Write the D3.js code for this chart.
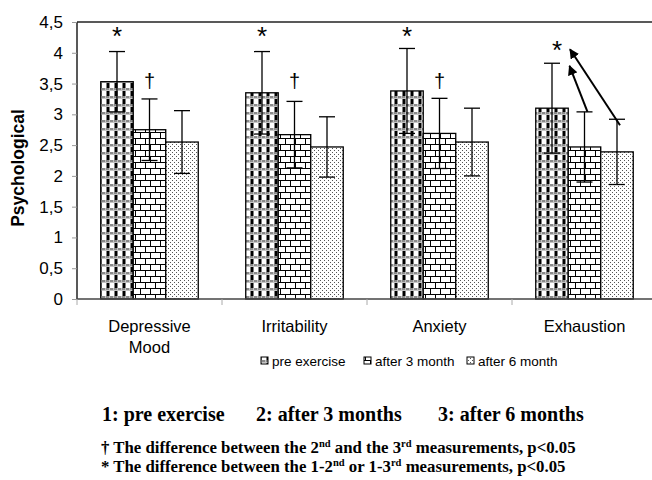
<!DOCTYPE html>
<html><head><meta charset="utf-8">
<script src="https://cdn.jsdelivr.net/npm/d3@7"></script>
<style>body{margin:0;background:#fff}svg{display:block}</style>
</head><body>
<svg id="c" width="652" height="480"></svg>
<script>
const categories = ["Depressive Mood", "Irritability", "Anxiety", "Exhaustion"];
const seriesNames = ["pre exercise", "after 3 month", "after 6 month"];
const preExercise = [3.53, 3.35, 3.38, 3.10];
const after3Month = [2.75, 2.67, 2.69, 2.47];
const after6Month = [2.55, 2.47, 2.55, 2.39];
const preErr = [0.49, 0.67, 0.69, 0.73];
const after3Err = [0.50, 0.54, 0.57, 0.57];
const after6Err = [0.51, 0.49, 0.55, 0.53];
const yTicks = [0, 0.5, 1, 1.5, 2, 2.5, 3, 3.5, 4, 4.5];
const starMarks = [true, true, true, true];      // on pre exercise bars
const daggerMarks = [true, true, true, false];   // on after 3 month bars
const footLine = ["1: pre exercise", "2: after 3 months", "3: after 6 months"];

const svg = d3.select("#c");
const defs = svg.append("defs");

// patterns
const pCheck = defs.append("pattern").attr("id","pCheck").attr("patternUnits","userSpaceOnUse")
  .attr("width",8).attr("height",8);
pCheck.append("rect").attr("width",8).attr("height",8).attr("fill","#fff");
pCheck.append("rect").attr("x",0).attr("y",0).attr("width",8).attr("height",2.5).attr("fill","#8a8a8a");
pCheck.append("rect").attr("x",1).attr("y",0.5).attr("width",1).attr("height",1).attr("fill","#fff");
pCheck.append("rect").attr("x",5).attr("y",0.5).attr("width",1).attr("height",1).attr("fill","#fff");
pCheck.append("rect").attr("x",2.5).attr("y",3).attr("width",3).attr("height",5).attr("fill","#000");

const pBrick = defs.append("pattern").attr("id","pBrick").attr("patternUnits","userSpaceOnUse")
  .attr("width",10).attr("height",12);
pBrick.append("rect").attr("width",10).attr("height",12).attr("fill","#fff");
pBrick.append("path").attr("d","M0,0.5H10M0,6.5H10M0.5,0.5V6.5M5.5,6.5V12")
  .attr("stroke","#000").attr("stroke-width",1).attr("fill","none");

const pDot = defs.append("pattern").attr("id","pDot").attr("patternUnits","userSpaceOnUse")
  .attr("width",4).attr("height",4);
pDot.append("rect").attr("width",4).attr("height",4).attr("fill","#fff");
pDot.append("rect").attr("x",0).attr("y",0).attr("width",1).attr("height",1).attr("fill","#555");
pDot.append("rect").attr("x",2).attr("y",2).attr("width",1).attr("height",1).attr("fill","#555");

const fills = ["url(#pCheck)", "url(#pBrick)", "url(#pDot)"];

const m = {left:77, top:22, bottom:299};
const catW = 145;
const x0 = d3.scaleBand().domain(categories).range([m.left, m.left + catW*categories.length]).padding(0);
const x1 = d3.scaleBand().domain(seriesNames).range([23.75, catW-23.75]).padding(0);
const y = d3.scaleLinear().domain([0,4.5]).range([m.bottom, m.top]);

const values = [preExercise, after3Month, after6Month];
const errs = [preErr, after3Err, after6Err];
const data = [];
categories.forEach((c,i)=>seriesNames.forEach((s,j)=>data.push({c, s, j, i, v: values[j][i], e: errs[j][i]})));

// frame (top border)
svg.append("line").attr("x1",m.left).attr("x2",660).attr("y1",m.top).attr("y2",m.top)
  .attr("stroke","#222").attr("stroke-width",1.5);

// bars
svg.append("g").selectAll("rect").data(data).join("rect")
  .attr("x", d=>x0(d.c)+x1(d.s))
  .attr("y", d=>y(d.v))
  .attr("width", x1.bandwidth())
  .attr("height", d=>y(0)-y(d.v))
  .attr("fill", d=>fills[d.j])
  .attr("stroke","#000").attr("stroke-width",1.3);

// error bars
const eg = svg.append("g").attr("stroke","#000").attr("stroke-width",1.3);
data.forEach(d=>{
  const cx = x0(d.c)+x1(d.s)+x1.bandwidth()/2;
  const t = y(d.v+d.e), b = y(d.v-d.e);
  eg.append("line").attr("x1",cx).attr("x2",cx).attr("y1",t).attr("y2",b);
  eg.append("line").attr("x1",cx-8).attr("x2",cx+8).attr("y1",t).attr("y2",t);
  eg.append("line").attr("x1",cx-8).attr("x2",cx+8).attr("y1",b).attr("y2",b);
});

// axes
const yAxis = d3.axisLeft(y).tickValues(yTicks).tickSize(5).tickPadding(9)
  .tickFormat(d=>String(d).replace(".",","));
const gy = svg.append("g").attr("transform",`translate(${m.left},0)`).call(yAxis);
gy.select(".domain").attr("stroke","#222").attr("stroke-width",1.5).attr("d",`M0,${m.bottom}V${m.top}`);
gy.selectAll(".tick line").attr("stroke","#999");
gy.selectAll("text").attr("font-family","Liberation Sans, Arial, sans-serif").attr("font-size",17).attr("fill","#000");

const xAxis = d3.axisBottom(x0).tickSize(0).tickFormat("");
const gx = svg.append("g").attr("transform",`translate(0,${m.bottom})`).call(xAxis);
gx.select(".domain").attr("stroke","#444").attr("stroke-width",1.5).attr("d",`M${m.left},0H660`);
// boundary ticks
const bounds = categories.map(c=>x0(c)).concat([x0.range()[1]]);
gx.selectAll(".bt").data(bounds).join("line").attr("class","bt")
  .attr("x1",d=>d).attr("x2",d=>d).attr("y1",0).attr("y2",6).attr("stroke","#aaa");

// category labels
categories.forEach(c=>{
  const cx = x0(c)+catW/2;
  const words = c === "Depressive Mood" ? ["Depressive","Mood"] : [c];
  const t = svg.append("text").attr("x",cx).attr("y",332).attr("text-anchor","middle")
    .attr("font-family","Liberation Sans, Arial, sans-serif").attr("font-size",16.5);
  words.forEach((w,k)=>t.append("tspan").attr("x",cx).attr("dy",k?21:0).text(w));
});

// y label
svg.append("text").attr("transform","translate(24,168) rotate(-90)").attr("text-anchor","middle")
  .attr("font-family","Liberation Sans, Arial, sans-serif").attr("font-weight","bold").attr("font-size",17.5)
  .text("Psychological");

// significance marks
categories.forEach((c,i)=>{
  if (starMarks[i]) {
    const cx = x0(c)+x1(seriesNames[0])+x1.bandwidth()/2;
    const sx = i===3 ? cx+5 : cx;
    const sy = i===3 ? 59 : 45;
    svg.append("text").attr("x",sx).attr("y",sy).attr("text-anchor","middle")
      .attr("font-family","Liberation Sans, Arial, sans-serif").attr("font-size",26).text("*");
  }
  if (daggerMarks[i]) {
    const cx = x0(c)+x1(seriesNames[1])+x1.bandwidth()/2;
    svg.append("text").attr("x",cx).attr("y",88).attr("text-anchor","middle")
      .attr("font-family","Liberation Sans, Arial, sans-serif").attr("font-size",20).text("†");
  }
});

// arrows (Exhaustion)
defs.append("marker").attr("id","ah").attr("viewBox","0 0 10 10").attr("refX",9).attr("refY",5)
  .attr("markerWidth",5).attr("markerHeight",5).attr("orient","auto")
  .append("path").attr("d","M0,0L10,5L0,10z").attr("fill","#000");
const ex = categories[3];
const a1x = x0(ex)+x1(seriesNames[1])+x1.bandwidth()/2, a1y = y(after3Month[3]+after3Err[3]);
const a2x = x0(ex)+x1(seriesNames[2])+x1.bandwidth()/2, a2y = y(after6Month[3]+after6Err[3]);
svg.append("line").attr("x1",a1x+3).attr("y1",a1y).attr("x2",a1x-15).attr("y2",a1y-46)
  .attr("stroke","#000").attr("stroke-width",2).attr("marker-end","url(#ah)");
svg.append("line").attr("x1",a2x+3).attr("y1",a2y+6).attr("x2",a2x-47).attr("y2",a2y-70)
  .attr("stroke","#000").attr("stroke-width",2).attr("marker-end","url(#ah)");

// legend
const lg = svg.append("g");
const lx = [261, 364, 467];
seriesNames.forEach((s,j)=>{
  lg.append("rect").attr("x",lx[j]).attr("y",357).attr("width",7).attr("height",7)
    .attr("fill",fills[j]).attr("stroke","#000").attr("stroke-width",1);
  lg.append("text").attr("x",lx[j]+11).attr("y",366)
    .attr("font-family","Liberation Sans, Arial, sans-serif").attr("font-size",13.5).text(s);
});

// footnotes
const fx = [102, 256, 438];
footLine.forEach((t,k)=>svg.append("text").attr("x",fx[k]).attr("y",421)
  .attr("font-family","Liberation Serif, Times New Roman, serif").attr("font-weight","bold").attr("font-size",20).text(t));

function footnote(yy, parts){
  const t = svg.append("text").attr("x",101).attr("y",yy)
    .attr("font-family","Liberation Serif, Times New Roman, serif").attr("font-weight","bold").attr("font-size",16.8);
  parts.forEach(p=>{
    if (p.sup) t.append("tspan").attr("dy",-6).attr("font-size",10.5).text(p.t);
    else t.append("tspan").attr("dy", p.after ? 6 : 0).text(p.t);
  });
}
footnote(453, [{t:"† The difference between the 2"},{t:"nd",sup:true},{t:" and the 3",after:true},{t:"rd",sup:true},{t:" measurements, p<0.05",after:true}]);
footnote(472, [{t:"* The difference between the 1-2"},{t:"nd",sup:true},{t:" or 1-3",after:true},{t:"rd",sup:true},{t:" measurements, p<0.05",after:true}]);
</script>
</body></html>
